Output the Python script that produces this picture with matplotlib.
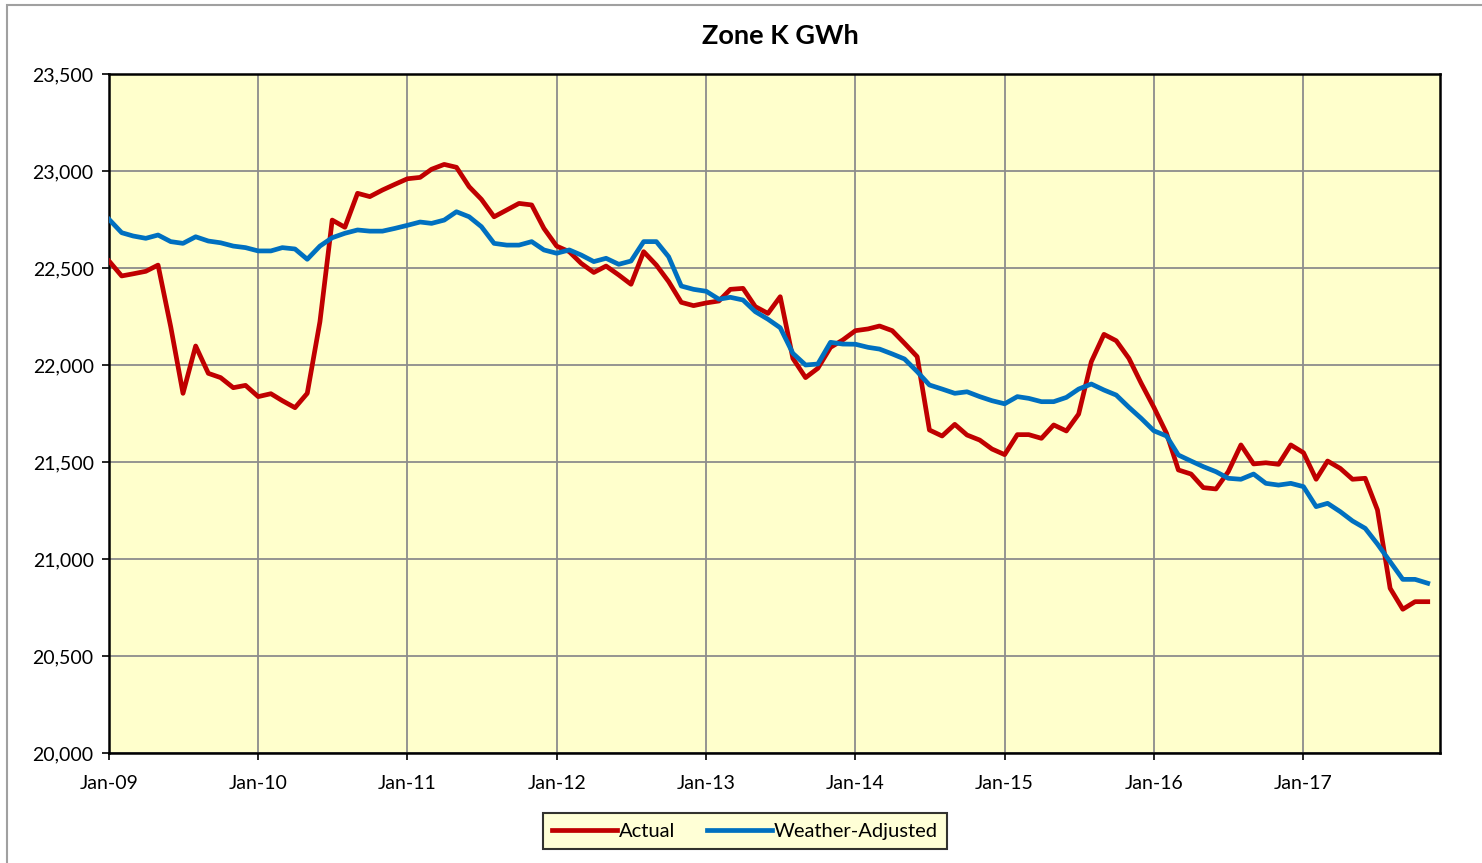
import matplotlib
matplotlib.use("Agg")
import matplotlib.pyplot as plt
import matplotlib.dates as mdates
import matplotlib.ticker as mticker
import pandas as pd

plt.rcParams['font.family'] = ['Lato', 'DejaVu Sans']

# Monthly values, Jan-09 .. Nov-17
months = pd.date_range("2009-01-01", "2017-11-01", freq="MS")

actual = [
    22536, 22459, 22470, 22483, 22515, 22197, 21854, 22098, 21957, 21935, 21883, 21895,
    21837, 21852, 21816, 21780, 21854, 22223, 22747, 22710, 22885, 22868, 22902, 22931,
    22960, 22967, 23009, 23034, 23019, 22919, 22854, 22764, 22799, 22833, 22825, 22704,
    22613, 22584, 22524, 22477, 22510, 22464, 22416, 22584, 22515, 22430, 22323, 22306,
    22320, 22330, 22390, 22395, 22301, 22266, 22352, 22034, 21935, 21983, 22091, 22129,
    22177, 22186, 22201, 22177, 22112, 22043, 21665, 21634, 21694, 21639, 21613, 21567,
    21538, 21641, 21641, 21622, 21691, 21660, 21747, 22017, 22158, 22125, 22034, 21906,
    21782, 21648, 21459, 21438, 21368, 21361, 21450, 21588, 21490, 21496, 21488, 21588,
    21548, 21411, 21505, 21467, 21411, 21416, 21253, 20849, 20741, 20780, 20780,
]

weather_adjusted = [
    22751, 22682, 22665, 22653, 22670, 22636, 22627, 22661, 22639, 22630, 22613, 22605,
    22588, 22588, 22605, 22598, 22545, 22613, 22656, 22679, 22696, 22690, 22690, 22704,
    22720, 22737, 22730, 22747, 22790, 22764, 22713, 22627, 22618, 22618, 22636, 22593,
    22576, 22593, 22567, 22533, 22550, 22519, 22536, 22636, 22636, 22558, 22407, 22390,
    22380, 22339, 22349, 22335, 22275, 22236, 22192, 22060, 22000, 22005, 22117, 22108,
    22107, 22091, 22082, 22057, 22031, 21966, 21897, 21876, 21854, 21862, 21837, 21816,
    21800, 21837, 21828, 21811, 21811, 21833, 21876, 21902, 21871, 21845, 21782, 21725,
    21661, 21634, 21536, 21505, 21476, 21450, 21416, 21411, 21438, 21390, 21381, 21390,
    21373, 21270, 21287, 21244, 21196, 21158, 21077, 20986, 20895, 20895, 20875,
]

W, H = 1482, 863
fig = plt.figure(figsize=(W / 100, H / 100), dpi=100)

# outer chart border (only top and left visible in the original crop)
fig.add_artist(plt.Rectangle((7 / W, -0.05), 1.1, 1 - 5 / H + 0.05,
                             transform=fig.transFigure, fill=False,
                             edgecolor="#a0a0a0", linewidth=1.5))

ax = fig.add_axes([109 / W, 1 - 753 / H, (1440 - 109) / W, (753 - 74) / H])
ax.set_facecolor("#FFFFCC")

ax.plot(months, actual, color="#C00000", linewidth=3.4, label="Actual", zorder=3)
ax.plot(months, weather_adjusted, color="#0070C0", linewidth=3.4,
        label="Weather-Adjusted", zorder=4)

ax.set_xlim(pd.Timestamp("2009-01-01"), pd.Timestamp("2017-12-01"))
ax.set_ylim(20000, 23500)
ax.yaxis.set_major_locator(mticker.MultipleLocator(500))
ax.yaxis.set_major_formatter(mticker.StrMethodFormatter("{x:,.0f}"))
ax.xaxis.set_major_locator(mdates.YearLocator())
ax.xaxis.set_major_formatter(mdates.DateFormatter("Jan-%y"))

ax.grid(True, color="#8c8c8c", linewidth=1.3)
ax.set_axisbelow(True)
for s in ax.spines.values():
    s.set_color("black")
    s.set_linewidth(1.8)
ax.tick_params(axis="both", labelsize=14, colors="black", length=5, width=1.2)
ax.tick_params(axis="y", pad=6)
ax.tick_params(axis="x", pad=11)

fig.text(780 / W, 1 - 36 / H, "Zone K GWh", ha="center", va="center",
         fontsize=19.5, fontweight="bold")

leg = fig.legend(loc="center", bbox_to_anchor=(745 / W, 1 - 831 / H), ncol=2,
                 fontsize=14.5, frameon=True, fancybox=False, handlelength=3.2,
                 handletextpad=0.1, columnspacing=1.6, borderpad=0.45)
leg.get_frame().set_facecolor("#FFFFCC")
leg.get_frame().set_edgecolor("black")
leg.get_frame().set_linewidth(1.5)

fig.savefig("out.png", dpi=100)
